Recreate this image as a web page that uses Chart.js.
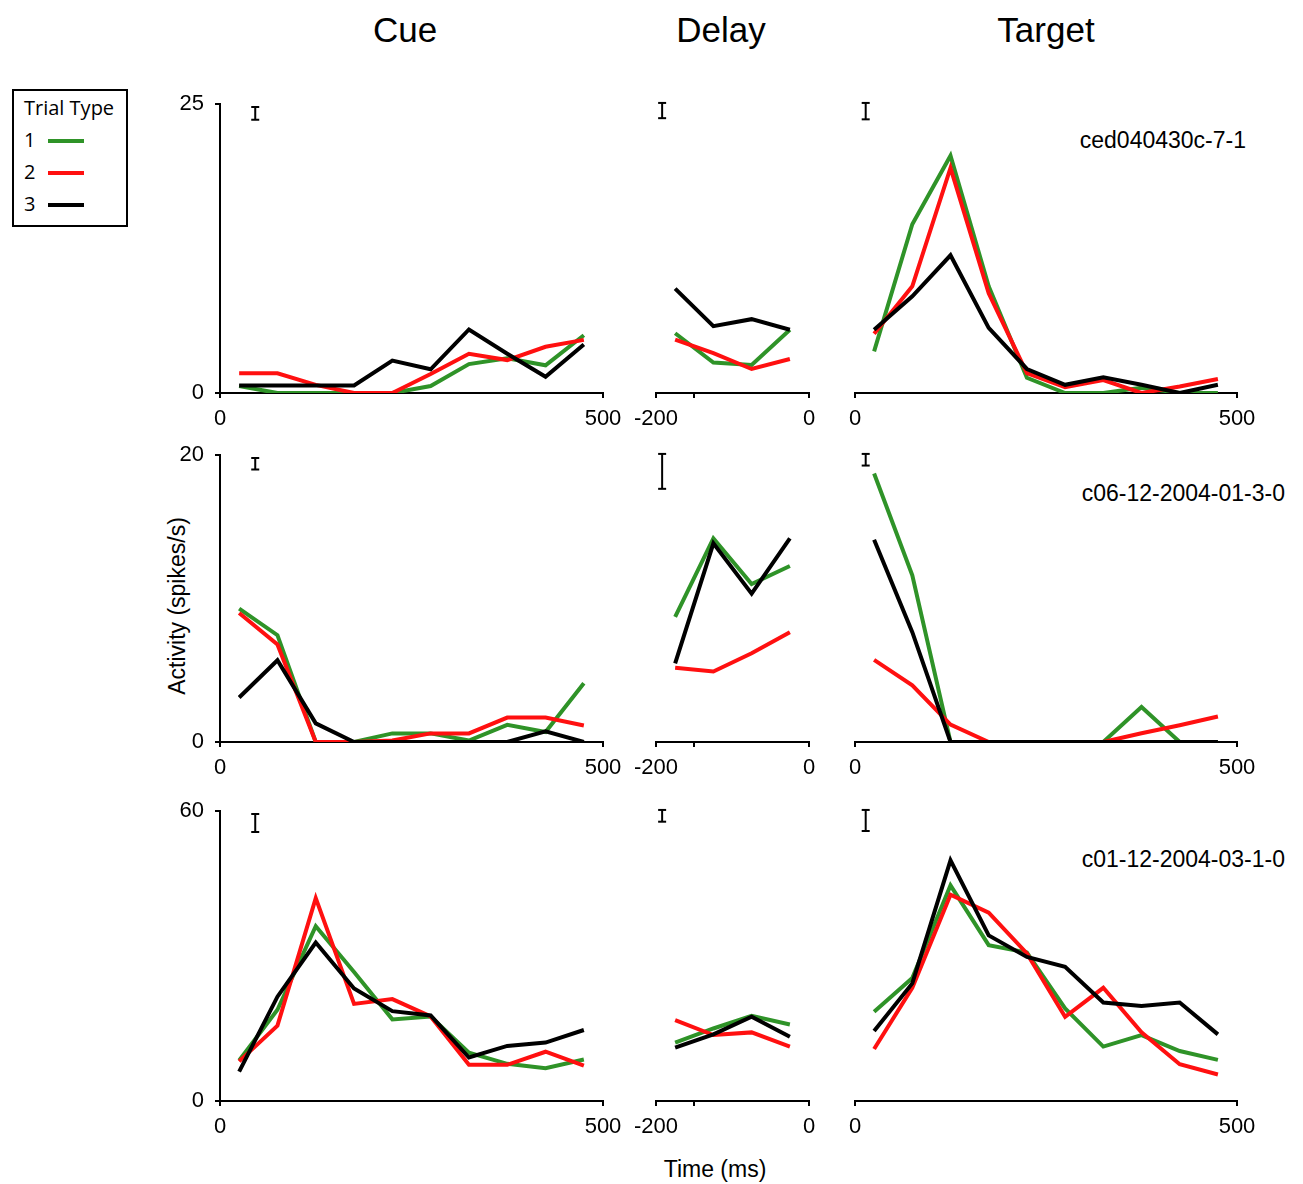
<!DOCTYPE html>
<html>
<head>
<meta charset="utf-8">
<script src="https://cdn.jsdelivr.net/npm/chart.js@4.4.1/dist/chart.umd.min.js"></script>
<style>
  body { margin: 0; background: #fff; }
  #fig { position: relative; width: 1303px; height: 1184px; font-family: "Liberation Sans", Arial, sans-serif; color: #000; overflow: hidden; }
  #fig canvas { position: absolute; }
  .txt { position: absolute; white-space: nowrap; line-height: 1; }
  .center { transform: translate(-50%, -50%); }
  .right { transform: translate(-100%, -50%); }
  #legend { position: absolute; left: 12px; top: 89px; width: 112px; height: 134px; border: 2px solid #000; font-family: "Open Sans", sans-serif; font-size: 20px; }
  #legend .row { position: absolute; left: 10px; line-height: 1; }
  #legend .swatch { position: absolute; left: 34px; width: 36px; height: 4px; }
</style>
</head>
<body>
<div id="fig">
  <div class="txt center" style="left:405px;top:29px;font-size:35px;">Cue</div>
  <div class="txt center" style="left:721px;top:29px;font-size:35px;">Delay</div>
  <div class="txt center" style="left:1046px;top:29px;font-size:35px;">Target</div>
  <div class="txt center" style="left:177px;top:606px;font-size:23px;transform:translate(-50%,-50%) rotate(-90deg);">Activity (spikes/s)</div>
  <div class="txt center" style="left:715px;top:1169px;font-size:23px;">Time (ms)</div>
  <div class="txt right" style="left:1246px;top:140px;font-size:23px;">ced040430c-7-1</div>
  <div class="txt right" style="left:1285px;top:493px;font-size:23px;">c06-12-2004-01-3-0</div>
  <div class="txt right" style="left:1285px;top:859px;font-size:23px;">c01-12-2004-03-1-0</div>
  <div id="legend"><div class="row" style="top:7px;">Trial Type</div></div>
</div>
<script>
// 時間ビン (ms)
const cueTimes = [25, 75, 125, 175, 225, 275, 325, 375, 425, 475];
const delayTimes = [-175, -125, -75, -25];
const targetTimes = [25, 75, 125, 175, 225, 275, 325, 375, 425, 475];

// 軸の目盛り
const cueXTicks = [0, 500];
const delayXTicks = [-200, -150, 0];
const delayXLabels = [-200, 0];
const targetXTicks = [0, 500];
const n1YTicks = [0, 25];
const n2YTicks = [0, 20];
const n3YTicks = [0, 60];

const typeLabels = ['1', '2', '3'];
const typeColors = ['#2f9328', '#ff1010', '#000000'];

// ニューロン1 ced040430c-7-1
const n1CueType1 = [0.6, 0, 0, 0, 0, 0.6, 2.5, 3.0, 2.4, 5.0];
const n1CueType2 = [1.7, 1.7, 0.7, 0, 0, 1.65, 3.4, 2.85, 4.0, 4.6];
const n1CueType3 = [0.65, 0.65, 0.65, 0.65, 2.8, 2.05, 5.5, 3.4, 1.4, 4.2];
const n1DelayType1 = [5.1, 2.6, 2.4, 5.4];
const n1DelayType2 = [4.55, 3.4, 2.05, 2.9];
const n1DelayType3 = [8.9, 5.7, 6.3, 5.4];
const n1TargetType1 = [3.55, 14.4, 20.25, 9.1, 1.3, 0, 0, 0.45, 0, 0];
const n1TargetType2 = [5.05, 9.1, 19.2, 8.5, 1.7, 0.5, 1.1, 0, 0.55, 1.2];
const n1TargetType3 = [5.4, 8.25, 11.75, 5.55, 2.05, 0.7, 1.35, 0.7, 0, 0.7];
const n1ErrSize = [1.1, 1.3, 1.4];  // cue, delay, target

// ニューロン2 c06-12-2004-01-3-0
const n2CueType1 = [9.3, 7.45, 0, 0, 0.6, 0.6, 0.1, 1.2, 0.7, 4.1];
const n2CueType2 = [9.0, 6.8, 0, 0, 0.1, 0.6, 0.6, 1.7, 1.7, 1.15];
const n2CueType3 = [3.1, 5.7, 1.3, 0, 0, 0, 0, 0, 0.75, 0];
const n2DelayType1 = [8.6, 14.0, 10.85, 12.1];
const n2DelayType2 = [5.1, 4.85, 6.1, 7.55];
const n2DelayType3 = [5.4, 13.65, 10.2, 14.0];
const n2TargetType1 = [18.45, 11.45, 0, 0, 0, 0, 0, 2.4, 0, 0];
const n2TargetType2 = [5.65, 3.9, 1.2, 0, 0, 0, 0, 0.6, 1.15, 1.75];
const n2TargetType3 = [13.9, 7.55, 0, 0, 0, 0, 0, 0, 0, 0];
const n2ErrSize = [0.8, 2.4, 0.8];

// ニューロン3 c01-12-2004-03-1-0
const n3CueType1 = [8.4, 18.9, 36.2, 26.7, 16.9, 17.5, 10.0, 7.7, 6.8, 8.6];
const n3CueType2 = [8.2, 15.6, 42.0, 20.1, 21.1, 17.5, 7.5, 7.5, 10.2, 7.3];
const n3CueType3 = [6.1, 21.6, 32.8, 23.3, 18.6, 17.7, 9.0, 11.4, 12.1, 14.7];
const n3DelayType1 = [11.9, 14.8, 17.4, 15.6];
const n3DelayType2 = [16.5, 13.45, 14.0, 11.1];
const n3DelayType3 = [10.9, 13.6, 17.2, 13.1];
const n3TargetType1 = [18.2, 25.1, 44.0, 31.8, 30.3, 18.9, 11.1, 13.45, 10.2, 8.4];
const n3TargetType2 = [10.6, 23.1, 42.1, 38.45, 30.1, 17.2, 23.1, 14.0, 7.5, 5.4];
const n3TargetType3 = [14.3, 24.0, 49.1, 33.8, 29.4, 27.4, 20.1, 19.4, 20.1, 13.6];
const n3ErrSize = [3.7, 2.4, 4.3];

// レイアウト
const epochs = {
  cue:    { times: cueTimes, min: 0, max: 500, ticks: cueXTicks, labels: cueXTicks, areaLeft: 220, areaRight: 603, yAxis: true, errX: 46 },
  delay:  { times: delayTimes, min: -200, max: 0, ticks: delayXTicks, labels: delayXLabels, areaLeft: 656, areaRight: 809, yAxis: false, errX: -192 },
  target: { times: targetTimes, min: 0, max: 500, ticks: targetXTicks, labels: targetXTicks, areaLeft: 855, areaRight: 1237, yAxis: false, errX: 14 }
};
const rows = [{ top: 100, bottom: 393 }, { top: 451, bottom: 742 }, { top: 807, bottom: 1101 }];

Chart.defaults.font.family = '"Liberation Sans", Arial, sans-serif';
const fig = document.getElementById('fig');
const tickFont = { size: 22 };

function makePanel(rowIdx, epochKey, series, errSize, yTicks) {
  const ep = epochs[epochKey];
  const row = rows[rowIdx];
  const yMax = yTicks[yTicks.length - 1];
  const left = ep.areaLeft - (ep.yAxis ? 70 : 30);
  const cv = document.createElement('canvas');
  cv.width = ep.areaRight + 30 - left;
  cv.height = row.bottom - row.top + 60;
  cv.style.left = left + 'px';
  cv.style.top = (row.top - 20) + 'px';
  fig.appendChild(cv);

  const datasets = series.map((vals, i) => ({
    label: 'Trial Type ' + typeLabels[i],
    data: vals.map((v, j) => ({ x: ep.times[j], y: v })),
    borderColor: typeColors[i],
    borderWidth: 4,
    borderJoinStyle: 'miter',
    pointRadius: 0,
    tension: 0,
    order: 3 - i
  }));
  // エラーバー（スケール表示）
  const errTop = yMax * 0.99;
  datasets.push({
    label: 'SE',
    data: [{ x: ep.errX, y: errTop - errSize }, { x: ep.errX, y: errTop }],
    borderColor: '#000',
    borderWidth: 2,
    pointStyle: 'line',
    pointRadius: 4,
    pointBorderWidth: 2,
    pointBorderColor: '#000',
    order: 0
  });

  const axisGrid = { display: true, drawOnChartArea: false, drawTicks: true, tickLength: 5, color: '#000', lineWidth: 2 };
  new Chart(cv, {
    type: 'line',
    data: { datasets },
    options: {
      responsive: false,
      animation: false,
      devicePixelRatio: 1,
      events: [],
      layout: { padding: { left: ep.yAxis ? 0 : 30, right: 30, top: 20, bottom: 0 } },
      plugins: { legend: { display: false }, tooltip: { enabled: false } },
      scales: {
        x: {
          type: 'linear',
          min: ep.min,
          max: ep.max,
          afterBuildTicks: a => { a.ticks = ep.ticks.map(v => ({ value: v })); },
          afterFit: a => { a.height = 40; },
          border: { display: true, color: '#000', width: 2 },
          grid: axisGrid,
          ticks: { color: '#000', font: tickFont, padding: 8, autoSkip: false, maxRotation: 0,
                   callback: v => ep.labels.includes(v) ? String(v) : '' }
        },
        y: {
          type: 'linear',
          display: ep.yAxis,
          min: 0,
          max: yMax,
          afterBuildTicks: a => { a.ticks = yTicks.map(v => ({ value: v })); },
          afterFit: a => { if (ep.yAxis) a.width = 70; },
          border: { display: true, color: '#000', width: 2 },
          grid: axisGrid,
          ticks: { color: '#000', font: tickFont, padding: 11 }
        }
      }
    }
  });
}

makePanel(0, 'cue', [n1CueType1, n1CueType2, n1CueType3], n1ErrSize[0], n1YTicks);
makePanel(0, 'delay', [n1DelayType1, n1DelayType2, n1DelayType3], n1ErrSize[1], n1YTicks);
makePanel(0, 'target', [n1TargetType1, n1TargetType2, n1TargetType3], n1ErrSize[2], n1YTicks);
makePanel(1, 'cue', [n2CueType1, n2CueType2, n2CueType3], n2ErrSize[0], n2YTicks);
makePanel(1, 'delay', [n2DelayType1, n2DelayType2, n2DelayType3], n2ErrSize[1], n2YTicks);
makePanel(1, 'target', [n2TargetType1, n2TargetType2, n2TargetType3], n2ErrSize[2], n2YTicks);
makePanel(2, 'cue', [n3CueType1, n3CueType2, n3CueType3], n3ErrSize[0], n3YTicks);
makePanel(2, 'delay', [n3DelayType1, n3DelayType2, n3DelayType3], n3ErrSize[1], n3YTicks);
makePanel(2, 'target', [n3TargetType1, n3TargetType2, n3TargetType3], n3ErrSize[2], n3YTicks);

// 凡例
const legend = document.getElementById('legend');
typeLabels.forEach((lab, i) => {
  const num = document.createElement('div');
  num.className = 'row';
  num.style.top = (39 + i * 32) + 'px';
  num.textContent = lab;
  legend.appendChild(num);
  const sw = document.createElement('div');
  sw.className = 'swatch';
  sw.style.top = (48 + i * 32) + 'px';
  sw.style.background = typeColors[i];
  legend.appendChild(sw);
});
</script>
</body>
</html>
